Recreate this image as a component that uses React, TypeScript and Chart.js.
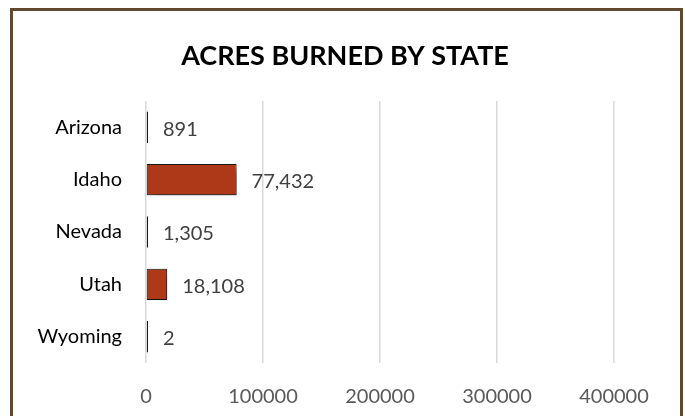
import React, { useEffect, useRef } from "react";
import { Chart, registerables } from "chart.js";

Chart.register(...registerables);

const states = ["Arizona", "Idaho", "Nevada", "Utah", "Wyoming"];
const acres = [891, 77432, 1305, 18108, 2];
const xTicks = [0, 100000, 200000, 300000, 400000];
const titleText = "ACRES BURNED BY STATE";

const FONT = "Lato, 'Open Sans', sans-serif";

export default function App() {
  const ref = useRef<HTMLCanvasElement | null>(null);

  useEffect(() => {
    if (!ref.current) return;

    const titlePlugin = {
      id: "centerTitle",
      afterDraw(chart: any) {
        const ctx = chart.ctx;
        ctx.save();
        ctx.font = `bold 27px ${FONT}`;
        ctx.fillStyle = "#000000";
        ctx.textAlign = "center";
        ctx.textBaseline = "middle";
        ctx.fillText(titleText, 345, 56);
        ctx.restore();
      },
    };

    const shadowPlugin = {
      id: "barShadow",
      beforeDatasetDraw(chart: any) {
        const ctx = chart.ctx;
        ctx.save();
        ctx.shadowColor = "rgba(0,0,0,0.55)";
        ctx.shadowBlur = 8;
        ctx.shadowOffsetX = 3;
        ctx.shadowOffsetY = 4;
      },
      afterDatasetDraw(chart: any) {
        chart.ctx.restore();
      },
    };

    const labelPlugin = {
      id: "valueLabels",
      afterDatasetsDraw(chart: any) {
        const ctx = chart.ctx;
        const meta = chart.getDatasetMeta(0);
        ctx.save();
        ctx.font = `20px ${FONT}`;
        ctx.fillStyle = "#404040";
        ctx.textAlign = "left";
        ctx.textBaseline = "middle";
        meta.data.forEach((bar: any, i: number) => {
          const v = acres[i];
          ctx.fillText(v.toLocaleString("en-US"), bar.x + 15, bar.y + 2);
        });
        ctx.restore();
      },
    };

    const chart = new Chart(ref.current, {
      type: "bar",
      data: {
        labels: states,
        datasets: [
          {
            data: acres,
            backgroundColor: "#AE3918",
            borderColor: "#1a1a1a",
            borderWidth: 1,
            borderSkipped: false,
            minBarLength: 2,
            categoryPercentage: 1,
            barPercentage: 0.6,
          },
        ],
      },
      options: {
        indexAxis: "y",
        animation: false,
        responsive: false,
        maintainAspectRatio: false,
        layout: { padding: { left: 0, right: 71, top: 101, bottom: 0 } },
        plugins: {
          legend: { display: false },
          tooltip: { enabled: false },
          title: { display: false },
        },
        scales: {
          x: {
            min: 0,
            max: 400000,
            afterBuildTicks(axis: any) {
              axis.ticks = xTicks.map((v) => ({ value: v }));
            },
            afterFit(axis: any) {
              axis.height = 53;
            },
            ticks: {
              color: "#595959",
              font: { family: FONT, size: 20 },
              padding: 22,
              maxRotation: 0,
              callback: (v: any) => String(v),
            },
            grid: { color: "#d9d9d9", lineWidth: 1.5, drawTicks: false },
            border: { display: false },
          },
          y: {
            afterFit(axis: any) {
              axis.width = 146;
            },
            ticks: {
              color: "#000000",
              font: { family: FONT, size: 20 },
              padding: 24,
            },
            grid: { display: false, drawTicks: false },
            border: { display: false },
          },
        },
      },
      plugins: [shadowPlugin, labelPlugin, titlePlugin],
    });

    return () => chart.destroy();
  }, []);

  return (
    <div style={{ position: "fixed", left: 0, top: 0, width: 685, height: 416, background: "#fff", overflow: "hidden" }}>
      <div
        style={{
          position: "absolute",
          left: 10,
          top: 8,
          width: 667,
          height: 420,
          border: "3px solid #5f4a31",
          boxSizing: "content-box",
        }}
      />
      <canvas ref={ref} width={685} height={416} style={{ position: "absolute", left: 0, top: 0, width: 685, height: 416 }} />
    </div>
  );
}
